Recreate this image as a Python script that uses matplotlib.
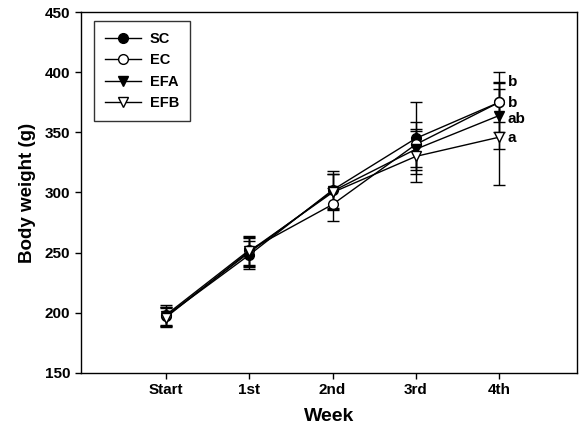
import numpy as np
import matplotlib
matplotlib.use('Agg')
import matplotlib.pyplot as plt

plt.rcParams['font.family'] = ['Liberation Sans', 'DejaVu Sans']
plt.rcParams['font.weight'] = 'bold'

weeks = ['Start', '1st', '2nd', '3rd', '4th']
groups = ['SC', 'EC', 'EFA', 'EFB']

# mean body weight (g) and error per group
sc_mean = [197, 248, 302, 345, 375]
sc_err = [8, 12, 16, 30, 25]
ec_mean = [198, 252, 290, 340, 375]
ec_err = [8, 12, 14, 19, 16]
efa_mean = [197, 250, 301, 336, 364]
efa_err = [8, 12, 14, 17, 28]
efb_mean = [196, 251, 300, 330, 346]
efb_err = [8, 12, 15, 21, 40]

letters = ['b', 'b', 'ab', 'a']
letter_y = [392, 374, 361, 345]

means = [sc_mean, ec_mean, efa_mean, efb_mean]
errs = [sc_err, ec_err, efa_err, efb_err]
markers = ['o', 'o', 'v', 'v']
faces = ['black', 'white', 'black', 'white']

fig = plt.figure(figsize=(5.85, 4.32), dpi=100)
ax = fig.add_axes([0.138, 0.137, 0.848, 0.835])

x = np.arange(len(weeks))
handles = []
for name, m, e, mk, fc in zip(groups, means, errs, markers, faces):
    cont = ax.errorbar(x, m, yerr=e, color='black', lw=1.0, elinewidth=1.0,
                       capsize=4, capthick=1.0, marker=mk, markersize=7,
                       markerfacecolor=fc, markeredgecolor='black',
                       markeredgewidth=1.0, label=name)
    handles.append(cont[0])

for lab, ly in zip(letters, letter_y):
    ax.text(x[-1] + 0.1, ly, lab, fontsize=11, fontweight='bold',
            ha='left', va='center')

ax.set_xlim(-1.02, 4.93)
ax.set_ylim(150, 450)
ax.set_yticks(np.arange(150, 451, 50))
ax.set_xticks(x)
ax.set_xticklabels(weeks)
ax.tick_params(axis='both', direction='out', length=4, width=1,
               labelsize=11, top=False, right=False)
for lab in ax.get_xticklabels() + ax.get_yticklabels():
    lab.set_fontweight('bold')
for sp in ax.spines.values():
    sp.set_linewidth(1.0)
    sp.set_color('black')

ax.set_xlabel('Week', fontsize=14, fontweight='bold', labelpad=8)
ax.set_ylabel('Body weight (g)', fontsize=13.5, fontweight='bold', labelpad=6)

leg = ax.legend(handles, groups, loc='upper left',
                bbox_to_anchor=(0.026, 0.975),
                frameon=True, fancybox=False, edgecolor='black',
                fontsize=10.5, handlelength=2.5, handletextpad=0.6,
                labelspacing=0.5, borderpad=0.75, borderaxespad=0.0)
leg.get_frame().set_linewidth(1.0)
for t in leg.get_texts():
    t.set_fontweight('bold')

fig.savefig('out.png', dpi=100)
